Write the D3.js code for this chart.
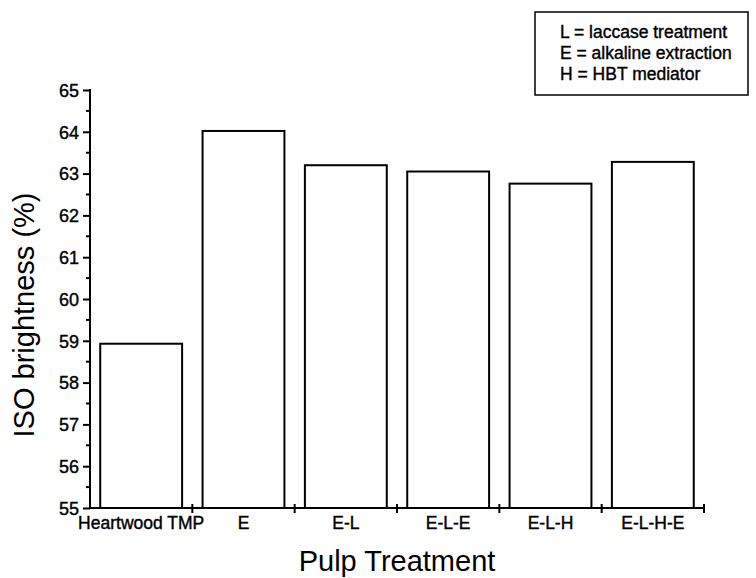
<!DOCTYPE html>
<html>
<head>
<meta charset="utf-8">
<script src="https://cdn.jsdelivr.net/npm/d3@7"></script>
<style>
  body { margin: 0; background: #fff; }
  text { font-family: "Liberation Sans", Arial, sans-serif; fill: #000; }
  .heavy { stroke: #000; stroke-width: 0.4px; }
</style>
</head>
<body>
<svg id="chart" width="756" height="578"></svg>
<script>
// values
const categories = ["Heartwood TMP", "E", "E-L", "E-L-E", "E-L-H", "E-L-H-E"];
const brightness = [58.93, 64.02, 63.2, 63.05, 62.76, 63.28];
const yTicks = [55, 56, 57, 58, 59, 60, 61, 62, 63, 64, 65];
const legendLines = ["L = laccase treatment", "E = alkaline extraction", "H = HBT mediator"];

const svg = d3.select("#chart");
const plotLeft = 90, plotRight = 704, plotTop = 90, plotBottom = 508;

const x = d3.scaleBand().domain(categories).range([plotLeft, plotRight]).padding(0);
const y = d3.scaleLinear().domain([55, 65]).range([plotBottom, plotTop]);

// bars
const bw = x.bandwidth();
svg.append("g").selectAll("rect")
  .data(categories)
  .enter()
  .append("rect")
  .attr("x", (d) => x(d) + bw * 0.1)
  .attr("width", bw * 0.8)
  .attr("y", (d, i) => y(brightness[i]))
  .attr("height", (d, i) => y(55) - y(brightness[i]))
  .attr("fill", "#fff")
  .attr("stroke", "#000")
  .attr("stroke-width", 2);

// y axis
let yAxis = svg.append("g").attr("transform", `translate(${plotLeft},0)`)
  .call(d3.axisLeft(y).tickValues(yTicks).tickSize(7).tickPadding(4).tickFormat(d3.format("d")));
yAxis.select(".domain").remove();
yAxis.selectAll(".tick line").attr("stroke-width", 2);
yAxis.selectAll(".tick text").attr("class", "heavy").style("font-size", "18px").attr("dy", "0.35em");

// minor ticks
let minor = d3.range(55.5, 65, 1);
svg.append("g").selectAll("line")
  .data(minor)
  .enter()
  .append("line")
  .attr("x1", plotLeft - 4).attr("x2", plotLeft)
  .attr("y1", (d) => y(d)).attr("y2", (d) => y(d))
  .attr("stroke", "#000").attr("stroke-width", 2);

svg.append("line")
  .attr("x1", plotLeft).attr("x2", plotLeft).attr("y1", plotTop - 1).attr("y2", plotBottom + 1)
  .attr("stroke", "#000").attr("stroke-width", 2);

// x axis
svg.append("line")
  .attr("x1", plotLeft - 1).attr("x2", plotRight).attr("y1", plotBottom).attr("y2", plotBottom)
  .attr("stroke", "#000").attr("stroke-width", 2);

let bounds = categories.slice(1).map((c) => x(c)).concat([plotRight]);
svg.append("g").selectAll("line")
  .data(bounds)
  .enter()
  .append("line")
  .attr("x1", (d) => d).attr("x2", (d) => d)
  .attr("y1", plotBottom - 4).attr("y2", plotBottom + 5)
  .attr("stroke", "#000").attr("stroke-width", 2);

svg.append("g").selectAll("text")
  .data(categories)
  .enter()
  .append("text")
  .attr("class", "heavy")
  .attr("x", (d) => x(d) + bw / 2)
  .attr("y", 529)
  .attr("text-anchor", "middle")
  .style("font-size", "17.5px")
  .text((d) => d);

// titles
svg.append("text")
  .attr("transform", "translate(34,315) rotate(-90)")
  .attr("text-anchor", "middle")
  .style("font-size", "29px")
  .text("ISO brightness (%)");

svg.append("text")
  .attr("x", 397).attr("y", 571)
  .attr("text-anchor", "middle")
  .style("font-size", "29px")
  .text("Pulp Treatment");

// legend box
svg.append("rect")
  .attr("x", 535).attr("y", 12).attr("width", 213).attr("height", 83)
  .attr("fill", "#fff").attr("stroke", "#000").attr("stroke-width", 1.5);

svg.append("g").selectAll("text")
  .data(legendLines)
  .enter()
  .append("text")
  .attr("class", "heavy")
  .attr("x", 560)
  .attr("y", (d, i) => 38 + i * 21)
  .style("font-size", "17.5px")
  .text((d) => d);
</script>
</body>
</html>
